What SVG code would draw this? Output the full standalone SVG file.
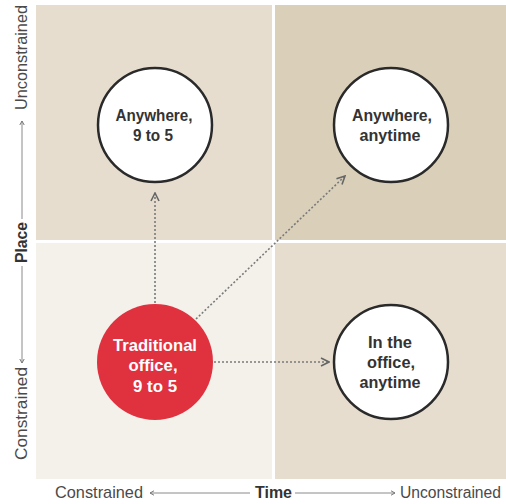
<svg xmlns="http://www.w3.org/2000/svg" width="506" height="504" viewBox="0 0 506 504">
<defs>
<style>
.q{stroke:none}
.node{fill:#fff;stroke:#2a2a2a;stroke-width:2.5}
.red{fill:#e0313f;stroke:none}
.t{font-family:"Liberation Sans",Arial,sans-serif;font-weight:bold;font-size:17px;fill:#333;text-anchor:middle}
.tw{fill:#fff}
.ax{font-family:"Liberation Sans",Arial,sans-serif;font-size:17px;fill:#4a4a4a}
.axb{font-weight:bold;fill:#333}
.axl{stroke:#8a8a8a;stroke-width:1;fill:none}
.con{stroke:#7a7a7a;stroke-width:1.6;stroke-dasharray:2 2;fill:none}
</style>
<marker id="ah" viewBox="0 0 10 10" refX="9" refY="5" markerWidth="10" markerHeight="10" markerUnits="userSpaceOnUse" orient="auto">
<path d="M1,1 L9,5 L1,9" fill="none" stroke="#666" stroke-width="1.6"/>
</marker>
<marker id="sa" viewBox="0 0 6 6" refX="5" refY="3" markerWidth="6" markerHeight="6" markerUnits="userSpaceOnUse" orient="auto-start-reverse">
<path d="M1,0.8 L5,3 L1,5.2" fill="none" stroke="#777" stroke-width="1"/>
</marker>
</defs>
<rect width="506" height="504" fill="#fff"/>
<g id="quadrants">
<rect class="q" x="36" y="5" width="236" height="235" fill="#e6ddcf"/>
<rect class="q" x="275" y="5" width="231" height="235" fill="#dacfb9"/>
<rect class="q" x="36" y="243" width="236" height="236" fill="#f4f1eb"/>
<rect class="q" x="275" y="243" width="231" height="236" fill="#e6ddcf"/>
</g>
<g id="axes">
<line class="axl" x1="150" y1="493" x2="250" y2="493" marker-start="url(#sa)"/>
<line class="axl" x1="295" y1="493" x2="395" y2="493" marker-end="url(#sa)"/>
<text class="ax" x="55" y="498" textLength="88" lengthAdjust="spacingAndGlyphs">Constrained</text>
<text class="ax axb" x="255" y="498" textLength="37" lengthAdjust="spacingAndGlyphs">Time</text>
<text class="ax" x="400" y="498" font-size="16" style="font-size:16px" textLength="101" lengthAdjust="spacingAndGlyphs">Unconstrained</text>
<line class="axl" x1="22" y1="121" x2="22" y2="219" marker-start="url(#sa)"/>
<line class="axl" x1="22" y1="266" x2="22" y2="363" marker-end="url(#sa)"/>
<text class="ax" transform="translate(27,110) rotate(-90)" textLength="105" lengthAdjust="spacingAndGlyphs">Unconstrained</text>
<text class="ax axb" transform="translate(27,263) rotate(-90)" textLength="41" lengthAdjust="spacingAndGlyphs">Place</text>
<text class="ax" transform="translate(27,460) rotate(-90)" textLength="93" lengthAdjust="spacingAndGlyphs">Constrained</text>
</g>
<g id="connectors">
<line class="con" x1="155" y1="303" x2="155" y2="193" marker-end="url(#ah)"/>
<line class="con" x1="196" y1="319" x2="345" y2="176" marker-end="url(#ah)"/>
<line class="con" x1="214" y1="362" x2="329" y2="362" marker-end="url(#ah)"/>
</g>
<g id="anywhere-9to5">
<circle class="node" cx="155" cy="125" r="57"/>
<text class="t" x="154" y="121" textLength="77" lengthAdjust="spacingAndGlyphs">Anywhere,</text>
<text class="t" x="153" y="141" textLength="40" lengthAdjust="spacingAndGlyphs">9 to 5</text>
</g>
<g id="anywhere-anytime">
<circle class="node" cx="391" cy="125" r="57"/>
<text class="t" x="392" y="121" textLength="80" lengthAdjust="spacingAndGlyphs">Anywhere,</text>
<text class="t" x="390" y="141" textLength="61" lengthAdjust="spacingAndGlyphs">anytime</text>
</g>
<g id="traditional-office">
<circle class="red" cx="155" cy="362" r="58"/>
<text class="t tw" x="155" y="351" textLength="84" lengthAdjust="spacingAndGlyphs">Traditional</text>
<text class="t tw" x="153" y="371" textLength="49" lengthAdjust="spacingAndGlyphs">office,</text>
<text class="t tw" x="155" y="392" textLength="44" lengthAdjust="spacingAndGlyphs">9 to 5</text>
</g>
<g id="office-anytime">
<circle class="node" cx="391" cy="362" r="57"/>
<text class="t" x="390" y="348" textLength="44" lengthAdjust="spacingAndGlyphs">In the</text>
<text class="t" x="391" y="368" textLength="48" lengthAdjust="spacingAndGlyphs">office,</text>
<text class="t" x="390" y="388" textLength="61" lengthAdjust="spacingAndGlyphs">anytime</text>
</g>
</svg>
